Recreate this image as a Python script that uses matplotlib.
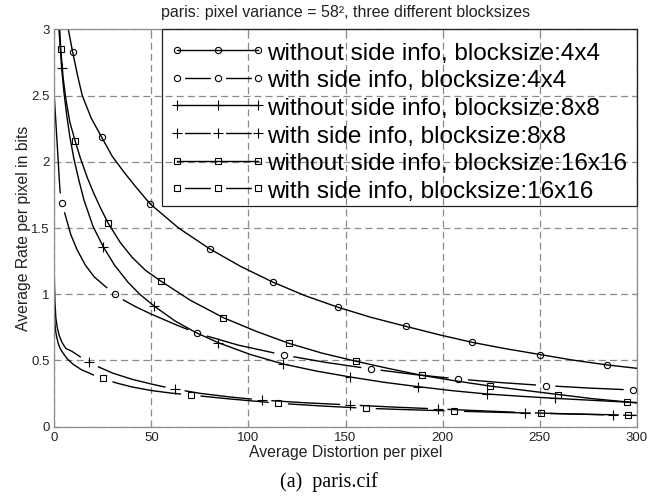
import numpy as np
import matplotlib
matplotlib.use("Agg")
import matplotlib.pyplot as plt
from matplotlib.lines import Line2D
from matplotlib.patches import Rectangle

plt.rcParams['font.family'] = ['Liberation Sans', 'DejaVu Sans']
plt.rcParams['lines.scale_dashes'] = False

# rate-distortion curves, paris.cif
# 4x4 without side info (solid, circles)
a_x = [7.2, 9.5, 12.0, 14.4, 19.0, 24.4, 29.9, 36.0, 42.0, 49.3, 64.0, 80.0, 96.0, 112.5, 129.0,
       146.3, 163.0, 181.0, 198.0, 215.2, 232.0, 250.2, 267.0, 284.9, 300.0]
a_y = [3.0, 2.825, 2.65, 2.50, 2.33, 2.185, 2.04, 1.92, 1.81, 1.683, 1.50, 1.343, 1.21, 1.092, 0.99,
       0.901, 0.826, 0.758, 0.695, 0.637, 0.59, 0.545, 0.503, 0.466, 0.441]
a_mk = [1, 5, 9, 11, 13, 15, 17, 19, 21, 23]

# 4x4 with side info (dashed, circles)
b_x = [0.0, 1.5, 2.9, 3.8, 5.9, 8.5, 11.8, 16.0, 20.5, 26.8, 31.1, 35.9, 42.0, 49.6, 63.4, 73.7,
       95.0, 118.2, 140.0, 163.1, 185.0, 208.1, 230.0, 253.1, 275.0, 298.3, 300.0]
b_y = [2.49, 2.13, 1.787, 1.689, 1.585, 1.45, 1.334, 1.22, 1.132, 1.052, 1.00, 0.954, 0.905, 0.852,
       0.765, 0.705, 0.615, 0.541, 0.485, 0.436, 0.395, 0.36, 0.333, 0.31, 0.292, 0.277, 0.276]
b_mk = [3, 10, 15, 17, 19, 21, 23, 25]

# 8x8 without side info (solid, plus)
c_x = [2.4, 3.8, 5.0, 6.5, 8.0, 10.0, 12.5, 15.3, 20.0, 25.2, 31.0, 38.0, 44.0, 51.4, 62.0, 73.0,
       84.5, 101.0, 118.0, 135.0, 152.5, 170.0, 187.5, 205.0, 222.7, 240.0, 258.0, 280.0, 300.0]
c_y = [3.0, 2.705, 2.52, 2.34, 2.19, 2.03, 1.87, 1.71, 1.51, 1.359, 1.22, 1.09, 1.00, 0.911, 0.80,
       0.71, 0.634, 0.545, 0.473, 0.42, 0.375, 0.335, 0.302, 0.272, 0.247, 0.23, 0.214, 0.197, 0.182]
c_mk = [1, 9, 13, 16, 18, 20, 22, 24, 26]

# 8x8 with side info (dashed, plus)
d_x = [0.0, 0.3, 0.8, 1.5, 2.5, 4.0, 6.0, 9.0, 13.6, 18.0, 23.0, 30.0, 40.0, 50.0, 56.5, 62.2,
       75.0, 90.0, 106.8, 130.0, 152.3, 175.0, 197.5, 220.0, 242.5, 265.0, 288.0, 300.0]
d_y = [1.13, 0.95, 0.82, 0.75, 0.69, 0.635, 0.59, 0.57, 0.525, 0.488, 0.45, 0.405, 0.358, 0.322,
       0.301, 0.284, 0.252, 0.225, 0.201, 0.18, 0.164, 0.148, 0.134, 0.12, 0.106, 0.097, 0.088, 0.085]
d_mk = [9, 15, 18, 20, 22, 24, 26]

# 16x16 without side info (solid, squares)
e_x = [2.8, 3.3, 4.5, 6.0, 8.0, 10.7, 13.5, 17.0, 20.4, 24.0, 27.8, 34.0, 40.0, 47.0, 54.8, 70.0,
       87.1, 104.0, 120.9, 138.0, 155.4, 172.0, 189.6, 207.0, 224.4, 242.0, 259.6, 277.0, 294.9, 300.0]
e_y = [3.0, 2.853, 2.64, 2.47, 2.30, 2.159, 2.025, 1.88, 1.76, 1.645, 1.535, 1.39, 1.28, 1.18, 1.10,
       0.955, 0.823, 0.72, 0.629, 0.555, 0.494, 0.44, 0.387, 0.345, 0.307, 0.275, 0.243, 0.212, 0.187, 0.18]
e_mk = [1, 5, 10, 14, 16, 18, 20, 22, 24, 26, 28]

# 16x16 with side info (dashed, squares)
f_x = [0.0, 0.3, 0.7, 1.2, 2.0, 3.0, 4.6, 6.5, 9.8, 14.0, 17.5, 21.0, 25.2, 32.0, 40.0, 50.0, 60.0,
       70.3, 90.0, 115.4, 138.0, 160.6, 183.0, 206.0, 228.0, 250.5, 273.0, 295.7, 300.0]
f_y = [0.856, 0.78, 0.72, 0.68, 0.63, 0.59, 0.554, 0.515, 0.47, 0.43, 0.408, 0.385, 0.364, 0.33, 0.30,
       0.273, 0.254, 0.239, 0.21, 0.177, 0.156, 0.139, 0.128, 0.118, 0.109, 0.101, 0.094, 0.088, 0.087]
f_mk = [12, 17, 19, 21, 23, 25, 27]

labels = ['without side info, blocksize:4x4', 'with side info, blocksize:4x4',
          'without side info, blocksize:8x8', 'with side info, blocksize:8x8',
          'without side info, blocksize:16x16', 'with side info, blocksize:16x16']

fig = plt.figure(figsize=(6.65, 4.98), dpi=100)
ax = fig.add_axes([54.3 / 665, 1 - 426.7 / 498, 582.4 / 665, 397.4 / 498])
ax.set_xlim(0, 300)
ax.set_ylim(0, 3)
ax.set_xticks(np.arange(0, 301, 50))
ax.set_yticks(np.arange(0, 3.01, 0.5))
ax.set_yticklabels(['0', '0.5', '1', '1.5', '2', '2.5', '3'])
ax.grid(True, color='#8a8a8a', lw=0.9, linestyle=(0, (5, 3)))
ax.set_axisbelow(True)
for s in ax.spines.values():
    s.set_color('#8c8c8c')
    s.set_linewidth(0.9)
ax.tick_params(direction='in', top=True, right=True, length=3.5, color='#8c8c8c',
               labelsize=9.5, labelcolor='#222222')

LW = 1.0
GAP = 7.0  # points left blank around markers on dashed curves
styles = {'o': dict(ms=4.5), '+': dict(ms=6.5), 's': dict(ms=4.8)}


def solid(x, y, mk, m):
    ax.plot(x, y, color='k', lw=LW, marker=m, markevery=mk, mfc='none', mec='k', mew=0.8,
            **styles[m])


def dashed(x, y, mk, m):
    x = np.asarray(x)
    y = np.asarray(y)
    pts = ax.transData.transform(np.column_stack([x, y]))
    seg = np.hypot(np.diff(pts[:, 0]), np.diff(pts[:, 1])) * 72 / fig.dpi
    cuts = sorted(set([0, len(x) - 1] + list(mk)))
    for a, b in zip(cuts[:-1], cuts[1:]):
        L = seg[a:b].sum()
        g0 = GAP if a in mk else 0
        g1 = GAP if b in mk else 0
        on = L - g0 - g1
        if on <= 0:
            continue
        off = g0 + g1 + 1000
        ax.plot(x[a:b + 1], y[a:b + 1], color='k', lw=LW, linestyle=(on + off - g0, (on, off)),
                dash_capstyle='butt')
    ax.plot(x[mk], y[mk], ls='none', marker=m, mfc='none', mec='k', mew=0.8, **styles[m])


solid(a_x, a_y, a_mk, 'o')
dashed(b_x, b_y, b_mk, 'o')
solid(c_x, c_y, c_mk, '+')
dashed(d_x, d_y, d_mk, '+')
solid(e_x, e_y, e_mk, 's')
dashed(f_x, f_y, f_mk, 's')

# legend handles (MATLAB style: three markers per handle)
fs = 17.5
hl = 3.97
span = (hl - 0.6) * fs  # line length between outer markers, points
g = 5.5
d_on = span / 2 - 2 * g
handles = []
for m, dash in [('o', False), ('o', True), ('+', False), ('+', True), ('s', False), ('s', True)]:
    ls = (d_on + g, (d_on, 2 * g)) if dash else '-'
    handles.append(Line2D([], [], color='k', lw=LW, linestyle=ls, dash_capstyle='butt',
                          marker=m, mfc='none', mec='k', mew=0.8, **styles[m]))
x0 = (162 - 54.3) / 582.4
ybot = (426.7 - 206.5) / 397.4
top = 1 - 3.5 / 397.4
ax.legend(handles, labels, loc='upper left', bbox_to_anchor=(x0, 0, 1 - x0, top),
          mode='expand', borderaxespad=0, numpoints=3, fontsize=fs, handlelength=hl,
          handleheight=1.03, handletextpad=0.05, labelspacing=0.135, borderpad=0.3,
          frameon=False)
ax.add_patch(Rectangle((x0, ybot), 1 - x0, 1 - ybot, transform=ax.transAxes, fill=False,
                       edgecolor='#222222', lw=0.9, zorder=5, clip_on=False))

ax.set_title('paris: pixel variance = 58², three different blocksizes', fontsize=11.5,
             color='#222222', pad=8.5)
ax.set_xlabel('Average Distortion per pixel', fontsize=11.3, color='#222222')
ax.set_ylabel('Average Rate per pixel in bits', fontsize=11.3, color='#222222')
ax.xaxis.set_label_coords(0.5, -0.045)
ax.yaxis.set_label_coords(-0.04, 0.5)

fig.text(329 / 665, 1 - 482 / 498, '(a)  paris.cif', family='Liberation Serif', fontsize=14.5,
         ha='center', va='center')

fig.savefig('out.png', dpi=100)
